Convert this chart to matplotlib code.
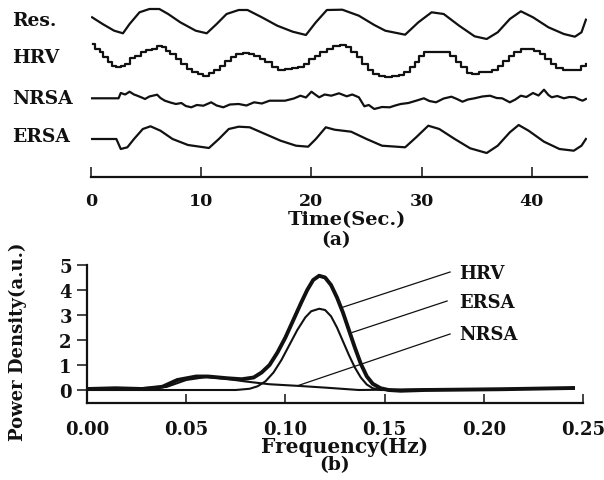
import matplotlib
matplotlib.use("Agg")
import matplotlib.pyplot as plt

W, H = 604, 481
FONT = "DejaVu Serif"
INK = "#111111"

plt.rcParams.update({
    "font.family": FONT, "font.weight": "bold", "text.color": INK,
    "axes.edgecolor": INK, "xtick.color": INK, "ytick.color": INK,
})

# ---- (a) time traces, amplitude in arbitrary units (positive = up)
res_t = [0.1, 1.05, 2.1, 2.9, 3.5, 4.4, 5.3, 6.2, 7.0, 8.1, 9.5, 10.5, 11.4, 12.3, 13.4, 14.2,
         15.5, 16.9, 18.3, 19.5, 20.4, 21.4, 22.8, 24.3, 25.7, 26.7, 28.5, 29.7, 30.9, 32.0,
         33.4, 34.8, 35.9, 36.9, 38.0, 39.0, 40.1, 41.5, 42.9, 43.9, 44.5, 44.9]
res_v = [5.7, -1, -7.7, -10.3, -1, 10.7, 14, 14, 9, 0.7, -7.7, -10.3, -1, 9, 13, 13,
         5.7, -2.7, -8.7, -12, 0.7, 13, 13.3, 7.3, -2, -7.7, -11.7, 0.7, 10.7, 9,
         -2.7, -13.3, -16, -9.3, 4, 11.7, 5.7, -4.3, -11, -13.7, -9.3, 3.3]

hrv_t = [0.2, 0.4, 0.8, 1.1, 1.5, 1.9, 2.3, 2.7, 3.1, 3.5, 4.0, 4.5, 5.0, 5.5, 6.0, 6.4, 6.8,
         7.2, 7.7, 8.2, 8.7, 9.2, 9.7, 10.2, 10.7, 11.2, 11.7, 12.2, 12.7, 13.2, 13.8, 14.3,
         14.8, 15.3, 15.8, 16.4, 17.0, 17.6, 18.2, 18.8, 19.3, 19.8, 20.3, 20.8, 21.4, 22.0,
         22.6, 23.1, 23.6, 24.1, 24.6, 25.1, 25.6, 26.1, 26.7, 27.3, 27.9, 28.4, 28.9, 29.4,
         29.8, 30.2, 30.8, 31.4, 32.0, 32.6, 33.1, 33.6, 34.1, 34.6, 35.2, 35.8, 36.4, 36.9,
         37.4, 37.9, 38.4, 39.0, 39.6, 40.2, 40.7, 41.2, 41.7, 42.2, 42.8, 43.4, 44.0, 44.5, 44.9]
hrv_v = [17, 12, 8.7, 3.7, -1.3, -4.7, -6.3, -4.7, -3, 2.7, 5.3, 9.3, 11.3, 12, 14.7, 13.7, 10.3,
         7, 2, -3, -8, -11.3, -13, -14.7, -12, -8.7, -4.7, 0.3, 3.7, 7, 8, 7,
         4.7, 2, -1.3, -6.3, -8.7, -8, -7.3, -6.3, -3, 2, 5.3, 8.7, 12, 14.7,
         16, 13.7, 8.7, 3.7, -3, -8.7, -13, -14.7, -16.3, -15.3, -14, -11.3, -6.3, -1.3,
         5.3, 9.3, 9.3, 9.3, 8.7, 4.7, -1.3, -6.3, -12, -13, -11.3, -10.7, -8.7, -4.7,
         0.3, 5.3, 9.3, 12, 12, 10.3, 7, 2, -3, -7.3, -8.7, -9.3, -9.3, -4.7, -3]

nrsa_t = [0.1, 2.5, 2.7, 3.1, 3.5, 3.9, 4.2, 4.6, 4.9, 5.3, 5.6, 6.0, 6.3, 6.7, 7.2, 7.7, 8.2,
          8.6, 9.1, 9.6, 10.2, 10.9, 11.4, 12.0, 12.6, 13.4, 14.1, 14.8, 15.5, 16.2, 17.6,
          18.4, 19.0, 19.5, 20.0, 20.4, 20.7, 21.2, 21.8, 22.5, 23.2, 23.7, 24.3, 24.8, 25.2,
          25.7, 26.4, 27.1, 27.6, 28.1, 28.8, 29.5, 30.2, 30.7, 31.3, 32.0, 32.7, 33.2, 33.7,
          34.2, 34.8, 35.5, 36.2, 36.8, 37.3, 38.0, 38.5, 39.0, 39.5, 40.1, 40.6, 41.1, 41.5,
          41.8, 42.3, 42.9, 43.4, 43.9, 44.3, 44.6, 44.9]
nrsa_v = [0.7, 0.7, 6, 4.5, 7.3, 4.5, 3.3, 1.5, 0, 2.5, 3.3, 4.3, 1, -1.7, -3.5, -5, -4,
          -7, -8.3, -6, -6.7, -3.3, -6.5, -8.3, -5.5, -5, -6.5, -3.3, -4.5, -1.7, -1.7,
          0.5, 3.3, 1.5, 7.3, 4, 1.7, 4.5, 3.3, 5.7, 2.7, 4.5, 1.7, -7.3, -6,
          -10, -8, -8.3, -6.5, -5, -4, -1.7, 0.7, -2, -3.3, 0.5, 2.3, 0, -2.7,
          -0.5, 0.7, 2.5, 3.3, 1, 0.7, -3.3, -0.5, 3.3, 2, 6, 3.5, 9.3, 4,
          1.7, 3, 0.7, 2, 1.7, -0.5, -1.7, 0]

ersa_t = [0.1, 2.3, 2.7, 3.3, 3.9, 4.7, 5.4, 6.3, 7.4, 8.8, 10.7, 11.6, 12.5, 13.4, 14.4,
          15.8, 17.2, 18.6, 19.7, 20.4, 21.3, 22.1, 23.6, 25.0, 26.4, 28.5, 29.5, 30.6, 31.6,
          33.0, 34.4, 35.9, 36.9, 38.0, 38.8, 39.7, 41.1, 42.5, 43.8, 44.5, 44.9]
ersa_v = [0, 0, -10, -8.3, 0, 10, 12.7, 8.3, 0, -6, -9, 0, 10, 12.3, 11.7,
          5, -1.7, -6.7, -7.7, 0, 11.7, 9.3, 7.3, 0, -6.7, -8.3, 1.7, 13.3, 10,
          0, -9.3, -14, -6.7, 6.7, 14, 8.3, -2.7, -10, -11.7, -6.7, 0]

trace_names = ["Res.", "HRV", "NRSA", "ERSA"]
time_ticks = [0, 10, 20, 30, 40]

# ---- (b) power spectra
hrv_f = [0.0, 0.0145, 0.028, 0.038, 0.0455, 0.055, 0.061, 0.0707, 0.078, 0.084, 0.088,
         0.092, 0.096, 0.100, 0.104, 0.108, 0.111, 0.114, 0.117, 0.120, 0.123, 0.126, 0.129,
         0.132, 0.135, 0.138, 0.141, 0.144, 0.148, 0.152, 0.158, 0.17, 0.208, 0.245]
hrv_p = [0.04, 0.07, 0.04, 0.13, 0.4, 0.54, 0.54, 0.47, 0.43, 0.5, 0.7,
         1.0, 1.5, 2.1, 2.8, 3.5, 4.0, 4.4, 4.57, 4.5, 4.2, 3.7, 3.1,
         2.4, 1.7, 1.05, 0.55, 0.25, 0.07, 0.0, -0.03, 0.0, 0.03, 0.08]
ersa_f = [0.0, 0.04, 0.075, 0.082, 0.086, 0.090, 0.094, 0.098, 0.102, 0.106, 0.110, 0.113,
          0.117, 0.120, 0.123, 0.126, 0.129, 0.132, 0.135, 0.138, 0.141, 0.144, 0.148, 0.152]
ersa_p = [0.0, 0.0, 0.0, 0.05, 0.15, 0.35, 0.7, 1.2, 1.8, 2.4, 2.9, 3.15,
          3.25, 3.2, 2.95, 2.5, 1.95, 1.4, 0.9, 0.5, 0.22, 0.07, 0.0, 0.0]
nrsa_f = [0.0, 0.02, 0.04, 0.05, 0.06, 0.07, 0.08, 0.092, 0.1075, 0.121, 0.137, 0.16, 0.2, 0.245]
nrsa_p = [0.05, 0.05, 0.12, 0.4, 0.52, 0.45, 0.34, 0.23, 0.16, 0.09, 0.0, 0.02, 0.04, 0.06]
freq_ticks = [0.00, 0.05, 0.10, 0.15, 0.20, 0.25]
power_ticks = [0, 1, 2, 3, 4, 5]

fig = plt.figure(figsize=(W / 100, H / 100), dpi=100)


def fx(px):
    return px / W


def fy(py):
    return 1 - py / H


# ---------------- panel (a)
ax1 = fig.add_axes([fx(91), fy(178), fx(496), 178 / H])
offsets = [154, 116, 78, 38]
series = [(res_t, res_v, "default"), (hrv_t, hrv_v, "steps-post"),
          (nrsa_t, nrsa_v, "default"), (ersa_t, ersa_v, "default")]
for (t, v, ds), off in zip(series, offsets):
    ax1.plot(t, [a + off for a in v], color=INK, lw=1.6, drawstyle=ds,
             solid_joinstyle="round")
ax1.set_xlim(0, 45)
ax1.set_ylim(0, 178)
for s in ("top", "right", "left"):
    ax1.spines[s].set_visible(False)
ax1.spines["bottom"].set_linewidth(1.6)
ax1.set_yticks([])
ax1.set_xticks(time_ticks)
ax1.tick_params(axis="x", direction="in", length=7.5, width=1.1, pad=11, labelsize=12.5)
for name, py in zip(trace_names, [21, 58, 99, 137]):
    fig.text(fx(12), fy(py), name, ha="left", va="center", fontsize=13.5, fontweight="bold")
fig.text(fx(347), fy(220), "Time(Sec.)", ha="center", va="center", fontsize=14, fontweight="bold")
fig.text(fx(336), fy(240), "(a)", ha="center", va="center", fontsize=13.5, fontweight="bold")

# ---------------- panel (b)
ax2 = fig.add_axes([fx(87), fy(404), fx(496), 138 / H])
ax2.plot(hrv_f, hrv_p, color=INK, lw=2.8, solid_joinstyle="round")
ax2.plot(ersa_f, ersa_p, color=INK, lw=1.5)
ax2.plot(nrsa_f, nrsa_p, color=INK, lw=1.5)
ax2.set_xlim(0, 0.25)
ax2.set_ylim(-0.52, 5.0)
for s in ("top", "right"):
    ax2.spines[s].set_visible(False)
ax2.spines["bottom"].set_linewidth(1.6)
ax2.spines["left"].set_linewidth(1.6)
ax2.set_xticks(freq_ticks)
ax2.set_xticklabels([f"{v:.2f}" for v in freq_ticks])
ax2.set_yticks(power_ticks)
ax2.tick_params(axis="x", direction="in", length=6.5, width=1.1, pad=12, labelsize=13)
ax2.tick_params(axis="y", direction="out", length=7, width=1.1, pad=4, labelsize=13)

# leader lines to curve labels
leaders = [("HRV", (0.1285, 3.3), (0.183, 4.72), 274),
           ("ERSA", (0.1336, 2.3), (0.1815, 3.56), 303),
           ("NRSA", (0.1065, 0.18), (0.183, 2.24), 335)]
for lab, p0, p1, py in leaders:
    ax2.plot([p0[0], p1[0]], [p0[1], p1[1]], color=INK, lw=0.9)
    fig.text(fx(459), fy(py), lab, ha="left", va="center", fontsize=13, fontweight="bold")

fig.text(fx(18), fy(342), "Power Density(a.u.)", rotation=90, ha="center", va="center",
         fontsize=13, fontweight="bold")
fig.text(fx(345), fy(447), "Frequency(Hz)", ha="center", va="center", fontsize=14.5, fontweight="bold")
fig.text(fx(335), fy(465), "(b)", ha="center", va="center", fontsize=13.5, fontweight="bold")

fig.savefig("out.png", dpi=100)
